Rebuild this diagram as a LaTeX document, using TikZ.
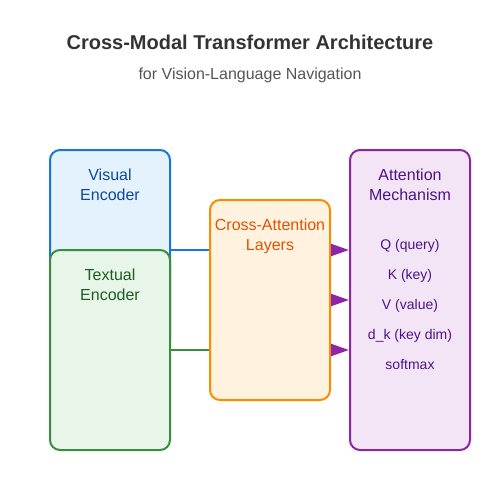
\documentclass[tikz,border=0pt]{standalone}
\usepackage{fontspec}
\setmainfont{Liberation Sans}
\usetikzlibrary{arrows.meta}
\definecolor{visfill}{HTML}{E3F2FD}
\definecolor{visdraw}{HTML}{1976D2}
\definecolor{vistext}{HTML}{0D47A1}
\definecolor{texfill}{HTML}{E8F5E9}
\definecolor{texdraw}{HTML}{388E3C}
\definecolor{textext}{HTML}{1B5E20}
\definecolor{crfill}{HTML}{FFF3E0}
\definecolor{crdraw}{HTML}{FB8C00}
\definecolor{crtext}{HTML}{E65100}
\definecolor{atfill}{HTML}{F3E5F5}
\definecolor{atdraw}{HTML}{8E24AA}
\definecolor{attext}{HTML}{4A148C}
\definecolor{titlec}{HTML}{333333}
\definecolor{subc}{HTML}{555555}
\tikzset{
  box/.style={draw, line width=2pt, rounded corners=10pt, minimum width=120pt, inner sep=0pt},
  head/.style={anchor=base, font=\fontsize{16}{20}\selectfont, inner sep=0pt},
  item/.style={anchor=base, font=\fontsize{14}{16}\selectfont, text=attext, inner sep=0pt},
  link/.style={line width=2pt},
  arr/.style={line width=2pt, draw=atdraw, -{Triangle[length=18pt,width=12pt]}}
}
\begin{document}
\begin{tikzpicture}[x=1pt,y=-1pt]
\useasboundingbox (0,0) rectangle (500,500);
\node[anchor=base, font=\bfseries\fontsize{20}{24}\selectfont, text=titlec] (title) at (250,50) {Cross-Modal Transformer Architecture};
\node[anchor=base, font=\fontsize{16}{20}\selectfont, text=subc] (sub) at (250,80) {for Vision-Language Navigation};

\node[box, fill=visfill, draw=visdraw, minimum height=200pt] (vis) at (110,250) {};
\node[box, fill=texfill, draw=texdraw, minimum height=200pt] (tex) at (110,350) {};
\node[box, fill=crfill, draw=crdraw, minimum height=200pt] (cross) at (270,300) {};
\node[box, fill=atfill, draw=atdraw, minimum height=300pt] (att) at (410,300) {};

\node[head, text=vistext] (vislab1) at (110,180) {Visual};
\node[head, text=vistext] (vislab2) at (110,200) {Encoder};
\node[head, text=textext] (texlab1) at (110,280) {Textual};
\node[head, text=textext] (texlab2) at (110,300) {Encoder};
\node[head, text=crtext] (crlab1) at (270,230) {Cross-Attention};
\node[head, text=crtext] (crlab2) at (270,250) {Layers};
\node[head, text=attext] (atlab1) at (410,180) {Attention};
\node[head, text=attext] (atlab2) at (410,200) {Mechanism};

\node[item] (q) at (410,249) {Q (query)};
\node[item] (k) at (410,279) {K (key)};
\node[item] (v) at (410,309) {V (value)};
\node[item] (dk) at (410,339) {d\_k (key dim)};
\node[item] (sm) at (410,369) {softmax};

\draw[link, visdraw] (vis.east) -- (cross.west |- vis.east);
\draw[link, texdraw] (tex.east) -- (cross.west |- tex.east);
\draw[arr] (cross.east |- vis.east) -- (att.west |- vis.east);
\draw[arr] (cross.east) -- (att.west);
\draw[arr] (cross.east |- tex.east) -- (att.west |- tex.east);
\end{tikzpicture}
\end{document}
